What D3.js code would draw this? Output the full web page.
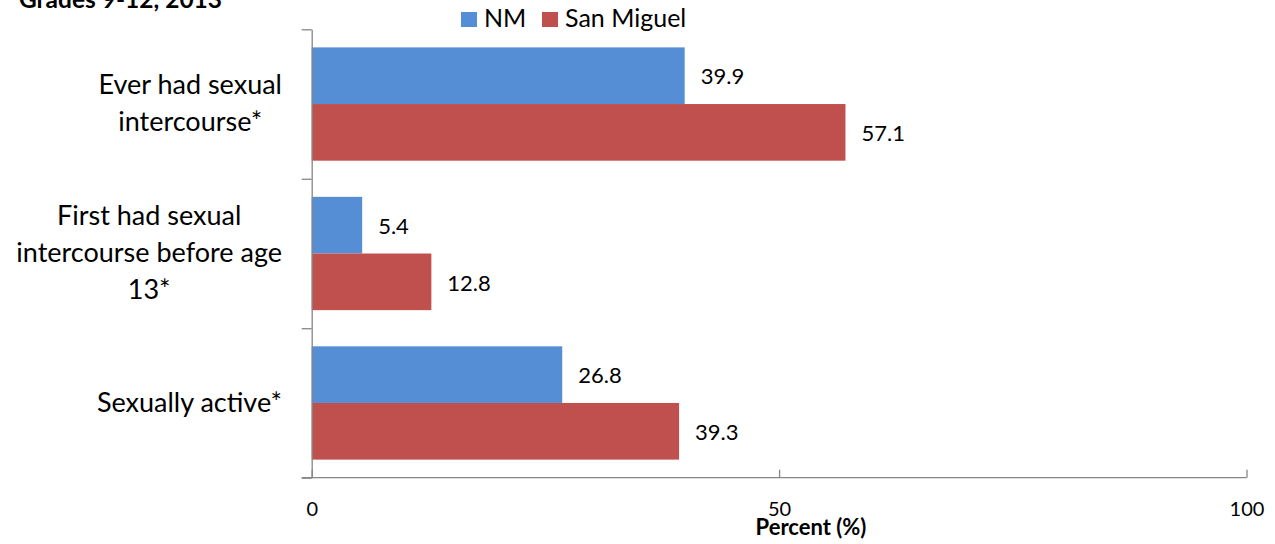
<!DOCTYPE html>
<html>
<head>
<meta charset="utf-8">
<script src="https://cdn.jsdelivr.net/npm/d3@7"></script>
<style>
  body { margin: 0; background: #fff; }
  svg { display: block; font-family: Lato, "Open Sans", sans-serif; }
</style>
</head>
<body>
<svg id="chart" width="1275" height="544"></svg>
<script>
// chart data
const categories = ["Ever had sexual intercourse*", "First had sexual intercourse before age 13*", "Sexually active*"];
const categoryLines = [["Ever had sexual", "intercourse*"], ["First had sexual", "intercourse before age", "13*"], ["Sexually active*"]];
const seriesNames = ["NM", "San Miguel"];
const nmValues = [39.9, 5.4, 26.8];
const sanMiguelValues = [57.1, 12.8, 39.3];
const xTicks = [0, 50, 100];

const colors = { "NM": "#558ed5", "San Miguel": "#c0504d" };
const axisColor = "#868686";

const svg = d3.select("#chart");

const plot = { left: 311.7, right: 1246.5, top: 29.3, bottom: 477.7 };

const x = d3.scaleLinear().domain([0, 100]).range([plot.left, plot.right]);

const y = d3.scaleBand()
    .domain(categories)
    .range([plot.top, plot.bottom])
    .paddingInner(0.242)
    .paddingOuter(0.121);

const ySub = d3.scaleBand()
    .domain(seriesNames)
    .range([0, y.bandwidth()]);

// category boundaries for the left axis ticks
const yEdges = d3.scaleLinear().domain([0, categories.length]).range([plot.top, plot.bottom]);

const rows = categories.map((c, i) => ({
    category: c,
    values: [
        { series: "NM", value: nmValues[i] },
        { series: "San Miguel", value: sanMiguelValues[i] }
    ]
}));

// title (cut off at the top like the source)
svg.append("text")
    .attr("x", 19)
    .attr("y", 8)
    .attr("font-size", 24.5)
    .attr("font-weight", "bold")
    .attr("fill", "#000")
    .text("Grades 9-12, 2013");

// bars
const groups = svg.append("g")
    .selectAll("g")
    .data(rows)
    .join("g")
    .attr("transform", d => `translate(0,${y(d.category)})`);

groups.selectAll("rect")
    .data(d => d.values)
    .join("rect")
    .attr("x", x(0))
    .attr("y", d => ySub(d.series))
    .attr("width", d => x(d.value) - x(0))
    .attr("height", ySub.bandwidth())
    .attr("fill", d => colors[d.series]);

groups.selectAll("text.val")
    .data(d => d.values)
    .join("text")
    .attr("class", "val")
    .attr("x", d => x(d.value) + 16)
    .attr("y", d => ySub(d.series) + ySub.bandwidth() / 2)
    .attr("dy", "0.4em")
    .attr("font-size", 22)
    .attr("fill", "#000")
    .text(d => d.value.toFixed(1));

// left axis: ticks at category boundaries
const yAxis = svg.append("g")
    .attr("transform", `translate(${plot.left},0)`)
    .call(d3.axisLeft(yEdges)
        .tickValues(d3.range(categories.length + 1))
        .tickSize(10)
        .tickSizeOuter(0)
        .tickFormat(""));
yAxis.selectAll("path, line").attr("stroke", axisColor).attr("stroke-width", 1.3);

// bottom axis
const xAxis = svg.append("g")
    .attr("transform", `translate(0,${plot.bottom})`)
    .call(d3.axisBottom(x)
        .tickValues(xTicks)
        .tickSize(-8)
        .tickSizeOuter(0)
        .tickPadding(24));
xAxis.select(".domain").remove();
xAxis.append("line")
    .attr("x1", plot.left - 10)
    .attr("x2", x(100))
    .attr("stroke", axisColor)
    .attr("stroke-width", 1.3);
xAxis.selectAll("line").attr("stroke", axisColor).attr("stroke-width", 1.3);
xAxis.selectAll(".tick text")
    .attr("font-size", 20)
    .attr("font-family", "Lato, sans-serif")
    .attr("fill", "#000");

// axis title
svg.append("text")
    .attr("x", 811)
    .attr("y", 535)
    .attr("text-anchor", "middle")
    .attr("font-size", 22)
    .attr("font-weight", "bold")
    .attr("fill", "#000")
    .text("Percent (%)");

// category labels: lines centred in a block right-aligned at x = 282
const labelRight = 282, lineGap = 37;
categories.forEach((c, i) => {
    const lines = categoryLines[i];
    const t = svg.append("text")
        .attr("font-size", 27)
        .attr("fill", "#000")
        .attr("text-anchor", "middle");
    const cy = y(c) + y.bandwidth() / 2;
    const spans = lines.map((ln, j) => t.append("tspan")
        .attr("y", cy + (j - (lines.length - 1) / 2) * lineGap)
        .attr("dy", "0.33em")
        .text(ln));
    const maxW = d3.max(spans, s => s.node().getComputedTextLength());
    spans.forEach(s => s.attr("x", labelRight - maxW / 2));
});

// legend
const legend = svg.append("g")
    .selectAll("g")
    .data(seriesNames)
    .join("g")
    .attr("transform", (d, i) => `translate(${[461, 542][i]},12)`);
legend.append("rect")
    .attr("width", 16)
    .attr("height", 15)
    .attr("fill", d => colors[d]);
legend.append("text")
    .attr("x", 23)
    .attr("y", 15)
    .attr("font-size", 25)
    .attr("fill", "#000")
    .text(d => d);
</script>
</body>
</html>
